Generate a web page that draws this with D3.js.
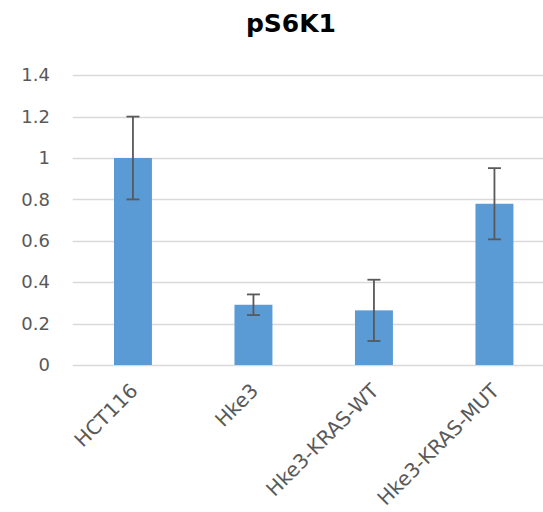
<!DOCTYPE html>
<html><head><meta charset="utf-8">
<script src="https://cdn.jsdelivr.net/npm/d3@7"></script>
<style>body{margin:0;background:#fff}svg{display:block}</style>
</head><body>
<script>
const categories = ["HCT116", "Hke3", "Hke3-KRAS-WT", "Hke3-KRAS-MUT"];
const values = [1.0, 0.291, 0.264, 0.779];
const errors = [0.2, 0.05, 0.148, 0.172];
const yTicks = [0, 0.2, 0.4, 0.6, 0.8, 1, 1.2, 1.4];
const title = "pS6K1";

const W = 543, H = 512;
const svg = d3.select("body").append("svg").attr("width", W).attr("height", H);
const font = "'DejaVu Sans', sans-serif";

const x = d3.scaleBand().domain(categories).range([72.7, 554.7]).padding(0);
const y = d3.scaleLinear().domain([0, 1.4]).range([365, 75.2]);

svg.append("text").attr("x", 291).attr("y", 32).attr("text-anchor", "middle")
  .attr("font-family", font).attr("font-weight", "bold").attr("font-size", 25)
  .attr("fill", "#000").text(title);

// gridlines
svg.append("g").selectAll("line").data(yTicks).join("line")
  .attr("x1", 72.7).attr("x2", W).attr("y1", d => Math.round(y(d)) + 0.5).attr("y2", d => Math.round(y(d)) + 0.5)
  .attr("stroke", "#d9d9d9").attr("stroke-width", 1.3);

// y labels
const yAxis = d3.axisLeft(y).tickValues(yTicks).tickSize(0).tickPadding(0).tickFormat(d => String(d));
const ga = svg.append("g").attr("transform", "translate(50,0)").call(yAxis);
ga.select(".domain").remove();
ga.selectAll("text").attr("font-family", font).attr("font-size", 18).attr("fill", "#595959");

// bars
const bw = x.bandwidth() * 0.315;
svg.append("g").selectAll("rect").data(categories).join("rect")
  .attr("x", d => x(d) + x.bandwidth() / 2 - bw / 2)
  .attr("width", bw)
  .attr("y", (d, i) => y(values[i]))
  .attr("height", (d, i) => y(0) - y(values[i]))
  .attr("fill", "#5b9bd5");

// error bars
const eg = svg.append("g").attr("stroke", "#595959").attr("stroke-width", 1.8);
categories.forEach((c, i) => {
  const cx = x(c) + x.bandwidth() / 2;
  const t = y(values[i] + errors[i]), b = y(values[i] - errors[i]);
  eg.append("line").attr("x1", cx).attr("x2", cx).attr("y1", t).attr("y2", b);
  eg.append("line").attr("x1", cx - 6.5).attr("x2", cx + 6.5).attr("y1", t).attr("y2", t);
  eg.append("line").attr("x1", cx - 6.5).attr("x2", cx + 6.5).attr("y1", b).attr("y2", b);
});

// x labels
const xAxis = d3.axisBottom(x).tickSize(0).tickPadding(0);
const gx = svg.append("g").attr("transform", "translate(0,365)").call(xAxis);
gx.select(".domain").remove();
gx.selectAll("text")
  .attr("font-family", font).attr("font-size", 20).attr("fill", "#595959")
  .attr("text-anchor", "end").attr("dy", 0)
  .attr("transform", "translate(6,27) rotate(-45)");
</script>
</body></html>
